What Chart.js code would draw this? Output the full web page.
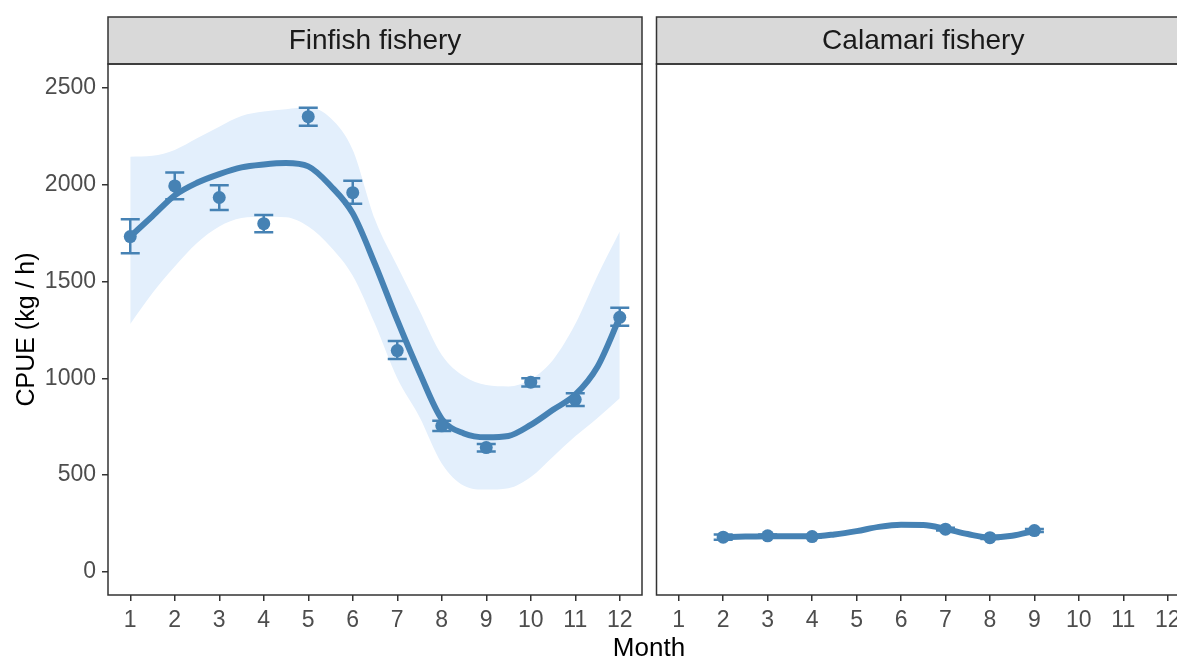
<!DOCTYPE html>
<html>
<head>
<meta charset="utf-8">
<script src="https://cdn.jsdelivr.net/npm/chart.js@4.4.1/dist/chart.umd.min.js"></script>
<style>
  html, body { margin: 0; padding: 0; background: #fff; overflow: hidden; }
  #wrap { position: relative; width: 1177px; height: 657px; overflow: hidden; }
  #wrap canvas { position: absolute; top: 0; }
  #xtitle { position: absolute; left: 549px; width: 200px; top: 634px; text-align: center;
            font: 26px "Liberation Sans", Arial, sans-serif; color: #000; line-height: 1; }
</style>
</head>
<body>
<div id="wrap">
  <canvas id="finfish" width="650" height="657" style="left:0"></canvas>
  <canvas id="calamari" width="550" height="657" style="left:650px"></canvas>
  <div id="xtitle">Month</div>
</div>
<script>
// Monthly mean CPUE (kg/h) with standard-error bars
const months = [1, 2, 3, 4, 5, 6, 7, 8, 9, 10, 11, 12];
const finfishMean = [1732, 1994, 1934, 1799, 2352, 1959, 1143, 754, 642, 980, 890, 1315];
const finfishLow  = [1646, 1925, 1870, 1755, 2305, 1902, 1099, 728, 621, 957, 857, 1271];
const finfishHigh = [1822, 2063, 1997, 1844, 2398, 2021, 1193, 780, 660, 1000, 923, 1365];

// Smoothed seasonal trend and its confidence band
const fitMonths = [1, 1.5, 2, 2.5, 3, 3.5, 4, 4.5, 5, 5.5, 6, 6.5, 7, 7.5, 8, 8.5, 9, 9.5, 10, 10.5, 11, 11.5, 12];
const finfishFit     = [1732, 1838, 1945, 2010, 2055, 2090, 2105, 2112, 2095, 1995, 1852, 1590, 1300, 1030, 790, 715, 695, 702, 759, 837, 915, 1060, 1315];
const finfishFitLow  = [1280, 1440, 1577, 1699, 1784, 1828, 1835, 1832, 1784, 1680, 1530, 1280, 1000, 800, 560, 445, 425, 432, 490, 595, 700, 795, 897];
const finfishFitHigh = [2145, 2150, 2180, 2240, 2300, 2355, 2378, 2390, 2400, 2345, 2180, 1820, 1580, 1350, 1120, 1010, 965, 958, 995, 1095, 1280, 1530, 1758];

const calamariMonths = [2, 3, 4, 7, 8, 9];
const calamariMean = [179, 186, 182, 220, 176, 213];
const calamariLow  = [166, 180, 176, 213, 170, 205];
const calamariHigh = [192, 192, 188, 227, 182, 221];

const calamariFitMonths = [2, 2.5, 3, 3.5, 4, 4.5, 5, 5.5, 6, 6.5, 7, 7.5, 8, 8.5, 9];
const calamariFit     = [179, 182, 184, 184, 183, 193, 210, 232, 243, 242, 222, 195, 177, 186, 211];
const calamariFitLow  = [171, 176, 179, 179, 178, 187, 203, 225, 236, 235, 215, 189, 171, 179, 202];
const calamariFitHigh = [187, 188, 189, 189, 188, 199, 217, 239, 250, 249, 229, 201, 183, 193, 220];

const yTicks = [0, 500, 1000, 1500, 2000, 2500];
const xTicks = months;

const panelTitles = ['Finfish fishery', 'Calamari fishery'];

const STEEL = '#4682b4';
const BAND = '#e3effc';
const FONT = '"Liberation Sans", Arial, sans-serif';

const toXY = (xs, ys) => xs.map((x, i) => ({ x: x, y: ys[i] }));

// Error bars with caps, drawn through the chart's own scales
const errorBarPlugin = {
  id: 'errorBars',
  afterDatasetsDraw(chart, args, opts) {
    const { ctx, scales: { x, y } } = chart;
    ctx.save();
    ctx.strokeStyle = STEEL;
    ctx.lineWidth = 2.5;
    const cap = 9.5;
    opts.x.forEach((m, i) => {
      const px = x.getPixelForValue(m);
      const pLo = y.getPixelForValue(opts.lo[i]);
      const pHi = y.getPixelForValue(opts.hi[i]);
      ctx.beginPath();
      ctx.moveTo(px, pLo); ctx.lineTo(px, pHi);
      ctx.moveTo(px - cap, pLo); ctx.lineTo(px + cap, pLo);
      ctx.moveTo(px - cap, pHi); ctx.lineTo(px + cap, pHi);
      ctx.stroke();
    });
    ctx.restore();
  }
};

// Facet strip above the panel and the panel frame
const stripPlugin = {
  id: 'strip',
  afterDraw(chart, args, opts) {
    const { ctx, chartArea: a } = chart;
    ctx.save();
    ctx.lineWidth = 1.5;
    ctx.strokeStyle = '#333';
    ctx.fillStyle = '#d9d9d9';
    ctx.fillRect(a.left, 17, a.right - a.left, a.top - 17);
    ctx.strokeRect(a.left, 17, a.right - a.left, a.top - 17);
    ctx.strokeRect(a.left, a.top, a.right - a.left, a.bottom - a.top);
    ctx.fillStyle = '#1a1a1a';
    ctx.font = '28px ' + FONT;
    ctx.textAlign = 'center';
    ctx.textBaseline = 'middle';
    ctx.fillText(opts.text, (a.left + a.right) / 2, (17 + a.top) / 2 + 1);
    ctx.restore();
  }
};

function makePanel(canvasId, cfg) {
  return new Chart(document.getElementById(canvasId), {
    type: 'line',
    data: {
      datasets: [
        { data: toXY(cfg.fitX, cfg.fitLow), borderWidth: 0, pointRadius: 0, fill: false,
          cubicInterpolationMode: 'monotone', order: 4 },
        { data: toXY(cfg.fitX, cfg.fitHigh), borderWidth: 0, pointRadius: 0, fill: '-1',
          backgroundColor: BAND, cubicInterpolationMode: 'monotone', order: 3 },
        { data: toXY(cfg.fitX, cfg.fit), borderColor: STEEL, borderWidth: 6, pointRadius: 0,
          fill: false, cubicInterpolationMode: 'monotone', borderCapStyle: 'round', order: 2 },
        { data: toXY(cfg.x, cfg.mean), showLine: false, pointRadius: 6.5, pointBackgroundColor: STEEL,
          pointBorderWidth: 0, order: 1 }
      ]
    },
    options: {
      responsive: false,
      animation: false,
      events: [],
      layout: { padding: cfg.padding },
      plugins: {
        legend: { display: false },
        tooltip: { enabled: false },
        errorBars: { x: cfg.x, lo: cfg.lo, hi: cfg.hi },
        strip: { text: cfg.title }
      },
      scales: {
        x: {
          type: 'linear', min: 0.5, max: 12.5,
          afterBuildTicks: s => { s.ticks = xTicks.map(v => ({ value: v })); },
          afterFit: s => { s.height = 62; },
          border: { display: false },
          grid: { drawOnChartArea: false, drawTicks: true, tickLength: 6, color: '#333', lineWidth: 1.5 },
          ticks: { color: '#4d4d4d', font: { family: FONT, size: 23 }, padding: 6, maxRotation: 0,
                   autoSkip: false, callback: v => String(v) }
        },
        y: {
          type: 'linear', min: -120, max: 2624, display: cfg.showY,
          afterBuildTicks: s => { s.ticks = yTicks.map(v => ({ value: v })); },
          afterFit: s => { s.width = cfg.showY ? 108 : 0; },
          border: { display: false },
          grid: { drawOnChartArea: false, drawTicks: true, tickLength: 6, color: '#333', lineWidth: 1.5 },
          ticks: { color: '#4d4d4d', font: { family: FONT, size: 23 }, padding: 6,
                   callback: v => String(v) },
          title: { display: true, text: 'CPUE (kg / h)', color: '#000',
                   font: { family: FONT, size: 25 }, padding: { top: 12, bottom: 0 } }
        }
      }
    },
    plugins: [errorBarPlugin, stripPlugin]
  });
}

makePanel('finfish', {
  title: panelTitles[0], showY: true,
  padding: { top: 64, right: 8, left: 0, bottom: 0 },
  x: months, mean: finfishMean, lo: finfishLow, hi: finfishHigh,
  fitX: fitMonths, fit: finfishFit, fitLow: finfishFitLow, fitHigh: finfishFitHigh
});

makePanel('calamari', {
  title: panelTitles[1], showY: false,
  padding: { top: 64, right: 10, left: 6, bottom: 0 },
  x: calamariMonths, mean: calamariMean, lo: calamariLow, hi: calamariHigh,
  fitX: calamariFitMonths, fit: calamariFit, fitLow: calamariFitLow, fitHigh: calamariFitHigh
});
</script>
</body>
</html>
